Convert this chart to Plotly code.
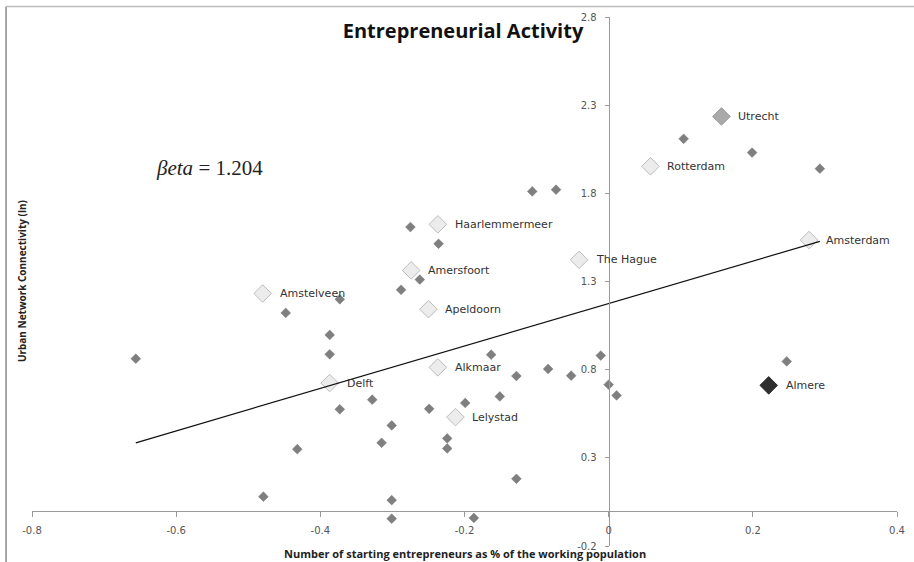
import plotly.graph_objects as go

# Unlabelled municipalities: change in starting entrepreneurs vs. network connectivity
other_x = [0.104, 0.199, 0.293, -0.106, -0.073, -0.275, -0.236, -0.262, -0.288, -0.373,
           -0.448, -0.387, -0.387, -0.656, -0.328, -0.373, -0.249, -0.301, -0.315, -0.224,
           -0.224, -0.432, -0.479, -0.301, -0.301, -0.163, -0.011, 0.247, -0.084, -0.128,
           -0.052, 0.000, 0.011, -0.151, -0.199, -0.128, -0.187]
other_y = [2.109, 2.031, 1.940, 1.811, 1.821, 1.609, 1.514, 1.311, 1.253, 1.199,
           1.122, 0.997, 0.887, 0.862, 0.630, 0.575, 0.578, 0.484, 0.385, 0.410,
           0.353, 0.349, 0.080, 0.060, -0.045, 0.885, 0.880, 0.847, 0.804, 0.764,
           0.766, 0.715, 0.654, 0.648, 0.611, 0.181, -0.041]

# Named cities
city_names = ["Utrecht", "Rotterdam", "Haarlemmermeer", "Amsterdam", "The Hague", "Amersfoort",
              "Amstelveen", "Apeldoorn", "Alkmaar", "Delft", "Lelystad", "Almere"]
city_x = [0.1565, 0.058, -0.237, 0.278, -0.041, -0.274, -0.480, -0.250, -0.237, -0.387, -0.2125, 0.222]
city_y = [2.236, 1.953, 1.624, 1.535, 1.423, 1.363, 1.232, 1.143, 0.813, 0.724, 0.531, 0.711]
city_fill = ["#a9a9a9", "#ececec", "#ececec", "#ececec", "#ececec", "#ececec",
             "#ececec", "#ececec", "#ececec", "#ececec", "#ececec", "#2e2e2e"]
city_edge = ["#9a9a9a", "#bcbcbc", "#bcbcbc", "#bcbcbc", "#bcbcbc", "#bcbcbc",
             "#bcbcbc", "#bcbcbc", "#bcbcbc", "#bcbcbc", "#bcbcbc", "#2e2e2e"]

# Fitted trend
beta = 1.204
intercept = 1.175

x_ticks = [-0.8, -0.6, -0.4, -0.2, 0, 0.2, 0.4]
x_tick_text = ["-0.8", "-0.6", "-0.4", "-0.2", "0", "0.2", "0.4"]
y_ticks = [-0.2, 0.3, 0.8, 1.3, 1.8, 2.3, 2.8]
y_tick_text = ["-0.2", "0.3", "0.8", "1.3", "1.8", "2.3", "2.8"]

X_RANGE = [-0.8, 0.4]
Y_RANGE = [-0.2, 2.8]

all_x = other_x + city_x
fit_x = [min(all_x), max(all_x)]
fit_y = [intercept + beta * v for v in fit_x]

fig = go.Figure()

fig.add_trace(go.Scatter(
    x=other_x, y=other_y, mode="markers",
    marker=dict(symbol="diamond", size=7.5, color="#7f7f7f",
                line=dict(width=0.5, color="#777777")),
    hoverinfo="skip", showlegend=False,
))

fig.add_trace(go.Scatter(
    x=city_x, y=city_y, mode="markers",
    marker=dict(symbol="diamond", size=13.5, color=city_fill,
                line=dict(width=1, color=city_edge)),
    text=city_names, hoverinfo="text", showlegend=False,
))

fig.add_trace(go.Scatter(
    x=fit_x, y=fit_y, mode="lines",
    line=dict(color="#111111", width=1.2),
    hoverinfo="skip", showlegend=False,
))

for name, cx, cy in zip(city_names, city_x, city_y):
    fig.add_annotation(
        x=cx, y=cy, text=name, showarrow=False, xanchor="left", yanchor="middle",
        xshift=15, font=dict(family="DejaVu Sans", size=11, color="#333333"),
    )

x_pos = (0 - Y_RANGE[0]) / (Y_RANGE[1] - Y_RANGE[0])
y_pos = (0 - X_RANGE[0]) / (X_RANGE[1] - X_RANGE[0])

tick_font = dict(family="DejaVu Sans", size=10, color="#555555")

fig.update_xaxes(
    range=X_RANGE, anchor="free", position=x_pos, showgrid=False, zeroline=False,
    showline=True, linecolor="#9a9a9a", linewidth=1,
    ticks="outside", ticklen=5, tickcolor="#9a9a9a", ticklabelstandoff=5,
    tickvals=x_ticks, ticktext=x_tick_text, tickfont=tick_font, automargin=False,
)
fig.update_yaxes(
    range=Y_RANGE, anchor="free", position=y_pos, showgrid=False, zeroline=False,
    showline=True, linecolor="#9a9a9a", linewidth=1,
    ticks="outside", ticklen=4, tickcolor="#9a9a9a", ticklabelstandoff=6,
    tickvals=y_ticks, ticktext=y_tick_text, tickfont=tick_font, automargin=False,
)

# axis titles
fig.add_annotation(
    x=0.5, y=-0.2, xref="paper", yref="y", yshift=-7, showarrow=False,
    text="<b>Number of starting entrepreneurs as % of the working population</b>",
    font=dict(family="Open Sans", size=11, color="#222222"), xanchor="center", yanchor="middle",
)
fig.add_annotation(
    x=-0.012, y=0.5, xref="paper", yref="paper", showarrow=False, textangle=-90,
    text="<b>Urban Network Connectivity (ln)</b>",
    font=dict(family="Open Sans", size=10, color="#222222"), xanchor="center", yanchor="middle",
)

# slope label
fig.add_annotation(
    x=(154 - 32) / 865, y=0.3 + (458 - 168) / 176.33, xref="paper", yref="y",
    xanchor="left", yanchor="middle", showarrow=False,
    text="<i>βeta</i> = 1.204",
    font=dict(family="Liberation Serif", size=21, color="#222222"),
)

# chart frame along top and left edges
fig.add_shape(type="line", xref="paper", yref="paper",
              x0=-0.03, x1=-0.03, y0=-0.1, y1=1.0198,
              line=dict(color="#8a8a8a", width=1.5))
fig.add_shape(type="line", xref="paper", yref="paper",
              x0=-0.03, x1=1.1, y0=1.0198, y1=1.0198,
              line=dict(color="#bdbdbd", width=1.5))

fig.update_layout(
    width=914, height=562,
    margin=dict(l=32, r=17, t=17, b=16),
    paper_bgcolor="white", plot_bgcolor="white",
    title=dict(text="<b>Entrepreneurial Activity</b>", x=463 / 914, xanchor="center",
               y=1 - 31 / 562, yanchor="middle",
               font=dict(family="Open Sans", size=20, color="#111111")),
)

fig.write_html("out.html")
